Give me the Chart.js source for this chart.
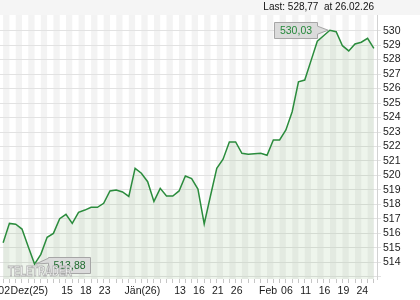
<!DOCTYPE html>
<html>
<head>
<meta charset="utf-8">
<title>Kursverlauf</title>
<script src="https://cdn.jsdelivr.net/npm/chart.js@4.4.1/dist/chart.umd.min.js"></script>
<style>
  html, body { margin: 0; padding: 0; background: #fff; }
  #wrap { width: 420px; height: 300px; }
</style>
</head>
<body>
<div id="wrap"><canvas id="priceChart" width="420" height="300"></canvas></div>
<script>
// Data

const dates = [
  '02.12.25', '03.12.25', '04.12.25', '05.12.25', '08.12.25', '09.12.25', '10.12.25', '11.12.25', '12.12.25', '15.12.25',
  '16.12.25', '17.12.25', '18.12.25', '19.12.25', '22.12.25', '23.12.25', '24.12.25', '29.12.25', '30.12.25', '31.12.25',
  '02.01.26', '05.01.26', '06.01.26', '07.01.26', '08.01.26', '09.01.26', '12.01.26', '13.01.26', '14.01.26', '15.01.26',
  '16.01.26', '19.01.26', '20.01.26', '21.01.26', '22.01.26', '23.01.26', '26.01.26', '27.01.26', '28.01.26', '29.01.26',
  '30.01.26', '02.02.26', '03.02.26', '04.02.26', '05.02.26', '06.02.26', '09.02.26', '10.02.26', '11.02.26', '12.02.26',
  '13.02.26', '16.02.26', '17.02.26', '18.02.26', '19.02.26', '20.02.26', '23.02.26', '24.02.26', '25.02.26', '26.02.26'
];

const prices = [
  515.35, 516.69, 516.63, 516.30, 515.08, 513.88, 514.55, 515.73, 516.00, 517.01,
  517.32, 516.69, 517.45, 517.61, 517.80, 517.80, 518.08, 518.93, 519.00, 518.86,
  518.55, 520.49, 520.15, 519.57, 518.21, 519.11, 518.58, 518.58, 518.93, 519.96,
  519.78, 519.06, 516.65, 518.60, 520.49, 521.12, 522.31, 522.31, 521.53, 521.46,
  521.50, 521.53, 521.39, 522.45, 522.45, 523.14, 524.40, 526.46, 526.59, 527.93,
  529.27, 529.65, 530.03, 529.93, 528.96, 528.60, 529.08, 529.20, 529.47, 528.77
];

// x axis labels and where they sit
const tickAt   = [0, 4, 10, 13, 16, 22, 28, 31, 34, 37, 42, 45, 48, 51, 54, 57];
const tickText = ['02', 'Dez(25)', '15', '18', '23', 'Jän(26)', '13', '16', '21', '26', 'Feb', '06', '11', '16', '19', '24'];

// y axis grid values, first one has no label
const yTicks = [513, 514, 515, 516, 517, 518, 519, 520, 521, 522, 523, 524, 525, 526, 527, 528, 529, 530];
const yFirstLabel = 514;

const FONT = '"Liberation Sans", Arial, sans-serif';
const lineGreen = '#2b8c3d';

const fmt = (v) => v.toFixed(2).replace('.', ',');

// Plugins

const stripes = {
  id: 'stripes',
  beforeDraw(chart) {
    const { ctx, chartArea: a, scales: { x } } = chart;
    ctx.save();
    ctx.fillStyle = '#f5f5f5';
    ctx.fillRect(0, 0, chart.width, a.top);
    ctx.fillStyle = '#f3f3f3';
    for (let i = 0; i < dates.length - 1; i += 2) {
      const x0 = x.getPixelForValue(i);
      const x1 = x.getPixelForValue(i + 1);
      ctx.fillRect(x0, a.top, x1 - x0, a.bottom - a.top);
    }
    ctx.restore();
  }
};

function drawCallout(ctx, bx, by, w, h, tip, side, text, color) {
  ctx.beginPath();
  if (side === 'right') {
    ctx.moveTo(bx, by);
    ctx.lineTo(bx + w, by);
    ctx.lineTo(bx + w, by + 3.7);
    ctx.lineTo(tip.x, tip.y);
    ctx.lineTo(bx + w, by + 11.7);
    ctx.lineTo(bx + w, by + h);
    ctx.lineTo(bx, by + h);
  } else {
    ctx.moveTo(bx, by);
    ctx.lineTo(bx + w, by);
    ctx.lineTo(bx + w, by + h);
    ctx.lineTo(bx, by + h);
    ctx.lineTo(bx, by + 5.7);
    ctx.lineTo(tip.x, tip.y);
    ctx.lineTo(bx, by + 0.7);
  }
  ctx.closePath();
  ctx.fillStyle = '#dbdbdb';
  ctx.fill();
  ctx.strokeStyle = '#a6a6a6';
  ctx.lineWidth = 1;
  ctx.stroke();
  ctx.fillStyle = color;
  ctx.font = '10.5px ' + FONT;
  ctx.textAlign = 'center';
  ctx.textBaseline = 'middle';
  ctx.fillText(text, bx + w / 2, by + h / 2 + 0.5);
}

const callouts = {
  id: 'callouts',
  afterDatasetsDraw(chart) {
    const { ctx, scales: { x, y } } = chart;
    const hi = prices.indexOf(Math.max(...prices));
    const lo = prices.indexOf(Math.min(...prices));
    ctx.save();
    let px = x.getPixelForValue(hi), py = y.getPixelForValue(prices[hi]);
    drawCallout(ctx, Math.round(px - 55.7) + 0.5, Math.round(py - 8.4) + 0.5, 43, 16,
      { x: px - 1.7, y: py }, 'right', fmt(prices[hi]), '#24893a');
    px = x.getPixelForValue(lo); py = y.getPixelForValue(prices[lo]);
    drawCallout(ctx, Math.round(px + 13.4) + 0.5, Math.round(py - 7.3) + 0.5, 42, 16,
      { x: px + 1, y: py }, 'left', fmt(prices[lo]), '#1e6b2e');
    ctx.restore();
  },
  afterDraw(chart) {
    const { ctx, chartArea: a } = chart;
    ctx.save();
    // header text
    const last = prices.length - 1;
    ctx.font = '10px ' + FONT;
    ctx.fillStyle = '#111';
    ctx.textAlign = 'right';
    ctx.textBaseline = 'middle';
    ctx.fillText('Last: ' + fmt(prices[last]) + '  at ' + dates[last], a.right - 3, 7.5);
    // watermark
    ctx.font = 'bold 15px ' + FONT;
    const tw = ctx.measureText('TELETRADER').width;
    ctx.translate(a.left + 8, a.bottom - 3);
    ctx.scale(64 / tw, 1);
    ctx.textAlign = 'left';
    ctx.textBaseline = 'alphabetic';
    ctx.fillStyle = 'rgba(255,255,255,0.85)';
    ctx.fillText('TELETRADER', 0, 0);
    ctx.strokeStyle = '#b0b0b0';
    ctx.lineWidth = 1;
    ctx.strokeText('TELETRADER', 0, 0);
    ctx.restore();
  }
};

// Chart

const priceChart = new Chart(document.getElementById('priceChart'), {
  type: 'line',
  data: {
    labels: dates,
    datasets: [{
      data: prices,
      borderColor: lineGreen,
      borderWidth: 1.5,
      pointRadius: 0,
      tension: 0,
      fill: 'start',
      backgroundColor: 'rgba(120, 180, 110, 0.13)'
    }]
  },
  options: {
    responsive: false,
    devicePixelRatio: 1,
    animation: false,
    layout: { padding: { top: 15, left: 0, right: 0, bottom: 0 } },
    plugins: {
      legend: { display: false },
      tooltip: { enabled: false }
    },
    scales: {
      x: {
        type: 'category',
        offset: true,
        border: { display: false },
        grid: { drawOnChartArea: false, drawTicks: true, tickLength: 4, color: '#c6c6c6' },
        ticks: {
          autoSkip: false,
          maxRotation: 0,
          labelOffset: 1,
          padding: 2,
          color: '#1a1a1a',
          font: { family: FONT, size: 10.5 },
          callback: (val, i) => {
            const k = tickAt.indexOf(i);
            return k < 0 ? '' : tickText[k];
          }
        },
        afterFit: (s) => { s.height = 21; s.paddingLeft = 0; s.paddingRight = 0; }
      },
      y: {
        position: 'right',
        min: 512.85,
        max: 531.08,
        afterBuildTicks: (s) => { s.ticks = yTicks.map(v => ({ value: v })); },
        border: { display: true, color: '#d2d2d2' },
        grid: { color: '#e2e2e2', tickLength: 4, drawTicks: true },
        ticks: {
          autoSkip: false,
          padding: 2,
          color: '#1a1a1a',
          font: { family: FONT, size: 10.5 },
          callback: (v) => v < yFirstLabel ? '' : v
        },
        afterFit: (s) => { s.width = 43; }
      }
    }
  },
  plugins: [stripes, callouts]
});
</script>
</body>
</html>
